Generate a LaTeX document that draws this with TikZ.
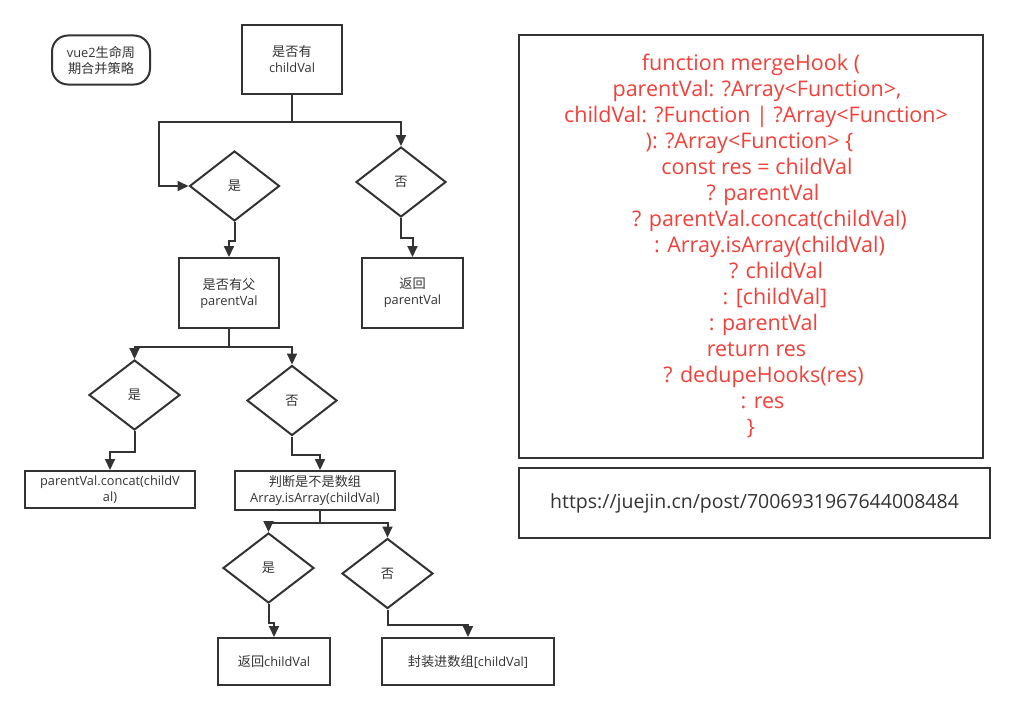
\documentclass[tikz,border=0pt]{standalone}
\usepackage{fontspec}
\setmainfont{Open Sans}
\newfontfamily\cjk{Noto Sans CJK SC}[Scale=1.03]
\usetikzlibrary{shapes.geometric,arrows.meta}
\definecolor{linec}{HTML}{333333}
\definecolor{codered}{RGB}{242,64,58}
\tikzset{
  x=1pt,y=-1pt,
  base/.style={draw=linec,line width=2pt,text=linec,inner sep=0pt,align=center,
    font=\fontsize{12.8}{16}\selectfont},
  boxn/.style={base,rectangle},
  diam/.style={base,diamond,minimum width=90pt,minimum height=70pt},
  arr/.style={draw=linec,line width=2pt,-{Triangle[length=11pt,width=10pt]}},
}
\begin{document}
\begin{tikzpicture}
\useasboundingbox (0,0) rectangle (1014,709);
% title
\node[base,rounded corners=16pt,minimum width=98pt,minimum height=49pt] (title) at (101,60) {vue2{\cjk 生命周}\\{\cjk 期合并策略}};
% level 1
\node[boxn,minimum width=100pt,minimum height=69pt] (q1) at (292,59.5) {{\cjk 是否有}\\childVal};
\node[diam] (d1) at (234.5,186) {\cjk 是};
\node[diam] (d2) at (401,182) {\cjk 否};
\node[boxn,minimum width=100pt,minimum height=70pt] (p1) at (229,293) {{\cjk 是否有父}\\parentVal};
\node[boxn,minimum width=101pt,minimum height=70pt] (r1) at (412.5,293) {{\cjk 返回}\\parentVal};
% level 2
\node[diam,minimum width=91pt] (d3) at (134.5,395) {\cjk 是};
\node[diam] (d4) at (292,400.5) {\cjk 否};
\node[boxn,minimum width=170pt,minimum height=37pt] (c1) at (110,489.5) {parentVal.concat(childV\\al)};
\node[boxn,minimum width=160pt,minimum height=39pt] (j1) at (315,490.5) {{\cjk 判断是不是数组}\\Array.isArray(childVal)};
% level 3
\node[diam,minimum width=91pt] (d5) at (268.5,568) {\cjk 是};
\node[diam,minimum width=91pt] (d6) at (387.5,573.5) {\cjk 否};
\node[boxn,minimum width=112pt,minimum height=47pt] (b1) at (274,661.5) {{\cjk 返回}childVal};
\node[boxn,minimum width=172pt,minimum height=47pt] (b2) at (468,661.5) {{\cjk 封装进数组}[childVal]};
% right side
\node[draw=linec,line width=2pt,minimum width=464pt,minimum height=423pt,inner sep=0pt] (code) at (751,246.5) {};
\node[text=codered,align=center,inner sep=0pt,font=\fontsize{21.5}{26}\selectfont,anchor=north] (codetext) at (751,54) {%
function mergeHook (\\
\hspace*{12pt}parentVal: ?Array<Function>,\\
\hspace*{10pt}childVal: ?Function | ?Array<Function>\\
\hspace*{-3pt}): ?Array<Function> \{\\
\hspace*{12pt}const res = childVal\\
\hspace*{24pt}? parentVal\\
\hspace*{37pt}? parentVal.concat(childVal)\\
\hspace*{37pt}: Array.isArray(childVal)\\
\hspace*{50pt}? childVal\\
\hspace*{48pt}: [childVal]\\
\hspace*{25pt}: parentVal\\
\hspace*{11pt}return res\\
\hspace*{25pt}? dedupeHooks(res)\\
\hspace*{23pt}: res\\
\}};
\node[draw=linec,line width=2pt,minimum width=471pt,minimum height=70pt,inner sep=0pt,text=linec,font=\fontsize{19.5}{22}\selectfont] (url) at (754.5,503) {https://juejin.cn/post/7006931967644008484};
% connectors
\draw[arr] (q1.south) |- (159,122) |- (d1.west);
\draw[arr] (q1.south) |- (401,122) -- (d2.north);
\draw[arr] (d1.south) -- ++(0,19) -| (p1.north);
\draw[arr] (d2.south) -- ++(0,20) -| (r1.north);
\draw[arr] (p1.south) -- ++(0,18) -| (d3.north);
\draw[arr] (p1.south) -- ++(0,18) -| (d4.north);
\draw[arr] (d3.south) -- ++(0,21) -| (c1.north);
\draw[arr] (d4.south) -- ++(0,18) -| ([xshift=5pt]j1.north);
\draw[arr] ([xshift=5pt]j1.south) -- ++(0,12) -| (d5.north);
\draw[arr] ([xshift=5pt]j1.south) -- ++(0,12) -| (d6.north);
\draw[arr] (d5.south) -- ++(0,19) -| (b1.north);
\draw[arr] (d6.south) -- ++(0,15) -| (b2.north);
\end{tikzpicture}
\end{document}
